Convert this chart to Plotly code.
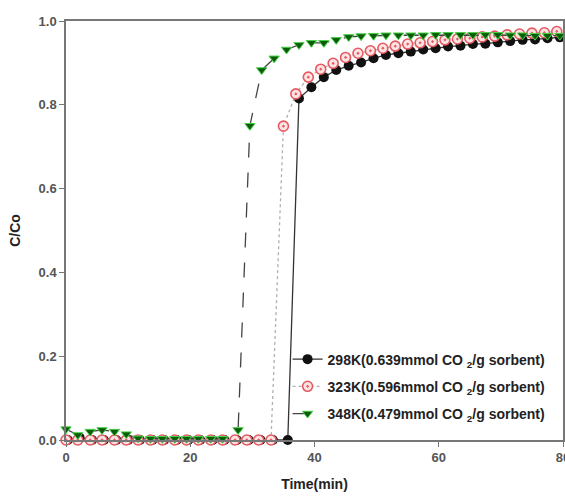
import plotly.graph_objects as go

# ---- data ----
t_298 = [0.3, 2.2, 4.2, 6.1, 8.1, 10.0, 11.9, 13.9, 15.8, 17.8, 19.7, 21.6, 23.6, 25.5, 27.5, 29.4, 31.3, 33.3, 35.7,
         37.5, 39.5, 41.5, 43.5, 45.5, 47.5, 49.5, 51.5, 53.5, 55.5, 57.5, 59.5, 61.5, 63.5, 65.5, 67.5, 69.5, 71.5,
         73.5, 75.5, 77.5, 79.5]
c_298 = [0.0, 0.005, 0.0, 0.0, 0.0, 0.0, 0.0, 0.0, 0.0, 0.0, 0.0, 0.0, 0.0, 0.0, 0.0, 0.0, 0.0, 0.0, 0.0,
         0.815, 0.842, 0.866, 0.883, 0.893, 0.901, 0.911, 0.919, 0.923, 0.927, 0.932, 0.935, 0.939, 0.941, 0.945,
         0.946, 0.949, 0.952, 0.955, 0.956, 0.959, 0.961]

t_323 = [0, 1.9, 3.9, 5.8, 7.8, 9.7, 11.6, 13.6, 15.5, 17.5, 19.4, 21.3, 23.3, 25.2, 27.2, 29.1, 31.0, 33.0,
         35.0, 37.0, 39.0, 41.0, 43.0, 45.0, 47.0, 49.0, 51.0, 53.0, 55.0, 57.0, 59.0, 61.0, 63.0, 65.0, 67.0,
         69.0, 71.0, 73.0, 75.0, 77.0, 79.0]
c_323 = [0.0] * 18 + [0.749, 0.826, 0.866, 0.885, 0.899, 0.913, 0.923, 0.929, 0.935, 0.940, 0.945, 0.948,
                      0.951, 0.955, 0.957, 0.959, 0.962, 0.964, 0.967, 0.969, 0.971, 0.972, 0.975]

t_348 = [0, 1.9, 3.9, 5.8, 7.8, 9.7, 11.6, 13.6, 15.5, 17.5, 19.4, 21.3, 23.3, 25.2, 27.7,
         29.6, 31.5, 33.5, 35.5, 37.5, 39.5, 41.5, 43.5, 45.5, 47.5, 49.5, 51.5, 53.5, 55.5, 57.5, 59.5, 61.5,
         63.5, 65.5, 67.5, 69.5, 71.5, 73.5, 75.5, 77.5, 79.5]
c_348 = [0.026, 0.012, 0.020, 0.024, 0.020, 0.014, 0.004, 0.003, 0.003, 0.003, 0.003, 0.003, 0.003, 0.003, 0.024,
         0.750, 0.883, 0.911, 0.932, 0.943, 0.948, 0.948, 0.955, 0.962, 0.964, 0.965, 0.966, 0.966, 0.966, 0.966,
         0.967, 0.967, 0.967, 0.967, 0.967, 0.967, 0.966, 0.966, 0.965, 0.965, 0.965]

names = ["298K(0.639mmol CO <sub>2</sub>/g sorbent)",
         "323K(0.596mmol CO <sub>2</sub>/g sorbent)",
         "348K(0.479mmol CO <sub>2</sub>/g sorbent)"]

x_ticks = [0, 20, 40, 60, 80]
y_ticks = [0.0, 0.2, 0.4, 0.6, 0.8, 1.0]

fig = go.Figure()
fig.add_trace(go.Scatter(
    x=t_298, y=c_298, name=names[0], legendgroup="a", mode="lines+markers", cliponaxis=False,
    line=dict(color="#333333", width=1.3),
    marker=dict(symbol="circle", size=10, color="#111111", line=dict(width=0))))
fig.add_trace(go.Scatter(
    x=t_323, y=c_323, name=names[1], legendgroup="b", mode="lines+markers", cliponaxis=False,
    line=dict(color="#b0b0b0", width=1.3, dash="dot"),
    marker=dict(symbol="circle-dot", size=10, color="#fde3e3", line=dict(width=1.6, color="#e55a60"))))
fig.add_trace(go.Scatter(
    x=t_348, y=c_348, name=names[2], legendgroup="c", mode="lines+markers", cliponaxis=False,
    line=dict(color="#444444", width=1.3, dash="longdash"),
    marker=dict(symbol="triangle-down", size=9, color="#0c5c0c", line=dict(width=1, color="#46d246"))))

axis_common = dict(showline=True, linecolor="#777777", linewidth=1.5, mirror=True,
                   ticks="outside", ticklen=5, tickcolor="#777777", tickwidth=1.2,
                   showgrid=False, zeroline=False, automargin=False, ticklabeloverflow="allow",
                   tickfont=dict(family="Liberation Sans", size=13, color="#555555", weight="bold"))

fig.update_xaxes(range=[0, 80], tickvals=x_ticks, ticktext=[str(v) for v in x_ticks],
                 title=dict(text="<b>Time(min)</b>",
                            font=dict(family="Liberation Sans Narrow, Liberation Sans", size=14, color="#222222")),
                 **axis_common)
fig.update_yaxes(range=[0, 1.0], tickvals=y_ticks, ticktext=[f"{v:.1f}" for v in y_ticks],
                 title=dict(text="<b>C/Co</b>",
                            font=dict(family="Liberation Sans", size=14, color="#222222")),
                 **axis_common)

fig.update_layout(
    width=565, height=500,
    margin=dict(l=66, r=2, t=21, b=60),
    plot_bgcolor="white", paper_bgcolor="white",
    legend=dict(x=0.975, y=0.025, xanchor="right", yanchor="bottom",
                bgcolor="rgba(255,255,255,0)", borderwidth=0,
                font=dict(family="Liberation Sans Narrow, Liberation Sans", size=14, color="#222222", weight="bold"),
                itemwidth=30, tracegroupgap=6),
)

fig.write_html("out.html", config={"displayModeBar": False},
               post_script="document.body.style.margin='0';document.body.style.overflow='hidden';")
